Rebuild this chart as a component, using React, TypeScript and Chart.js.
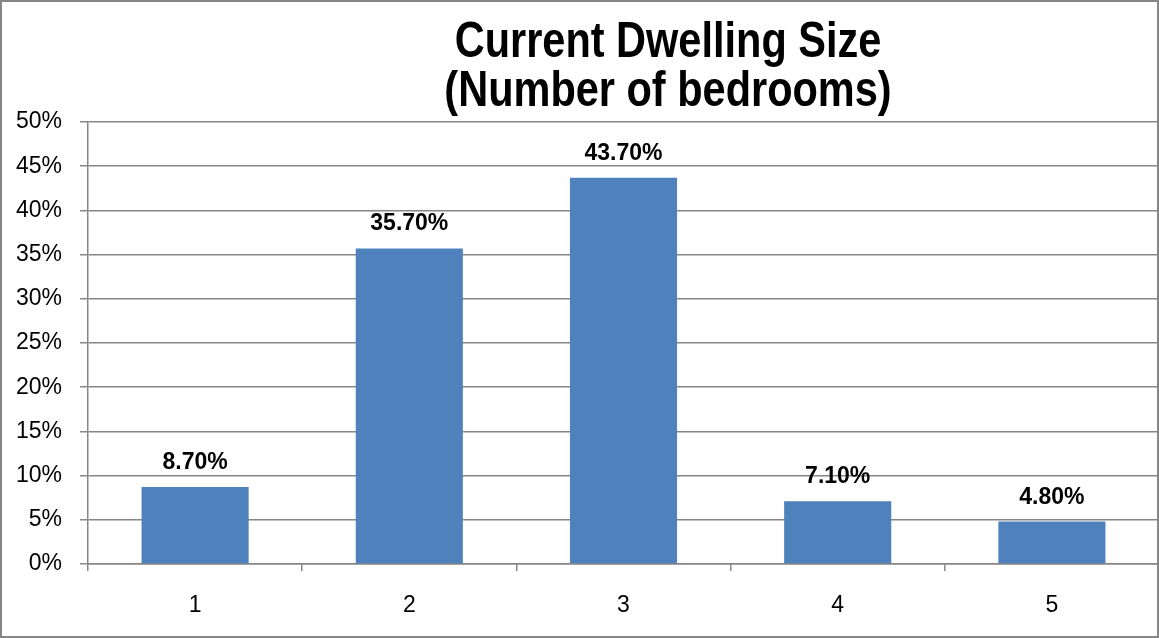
import React, { useEffect, useRef } from "react";
import { Chart, registerables } from "chart.js";

Chart.register(...registerables);

const categories = ["1", "2", "3", "4", "5"];
const values = [8.7, 35.7, 43.7, 7.1, 4.8];
const titleLines = ["Current Dwelling Size", "(Number of bedrooms)"];
const yMax = 50;
const yStep = 5;

const AXIS = "#868686";
const BAR = "#4F81BD";
const SANS = "'Liberation Sans', Arial, sans-serif";

export default function App() {
  const ref = useRef<HTMLCanvasElement | null>(null);

  useEffect(() => {
    if (!ref.current) return;
    const frameAndText = {
      id: "frameAndText",
      afterDraw(chart: any) {
        const ctx = chart.ctx;
        ctx.save();
        // outer frame
        ctx.strokeStyle = AXIS;
        ctx.lineWidth = 2;
        ctx.strokeRect(1, 1, chart.width - 2, chart.height - 2);
        // title (condensed bold)
        ctx.fillStyle = "#000";
        ctx.font = `bold 50px ${SANS}`;
        ctx.textAlign = "center";
        ctx.textBaseline = "alphabetic";
        const baselines = [57, 106];
        titleLines.forEach((line, i) => {
          ctx.save();
          ctx.translate(668, baselines[i]);
          ctx.scale(0.83, 1);
          ctx.fillText(line, 0, 0);
          ctx.restore();
        });
        // data labels
        ctx.font = `bold 23px ${SANS}`;
        const meta = chart.getDatasetMeta(0);
        meta.data.forEach((bar: any, i: number) => {
          ctx.fillText(values[i].toFixed(2) + "%", bar.x, bar.y - 18);
        });
        ctx.restore();
      },
    };

    const chart = new Chart(ref.current, {
      type: "bar",
      data: {
        labels: categories,
        datasets: [
          {
            data: values,
            backgroundColor: BAR,
            borderWidth: 0,
            barPercentage: 0.5,
            categoryPercentage: 1,
          },
        ],
      },
      options: {
        responsive: false,
        animation: false,
        devicePixelRatio: 1,
        layout: { padding: { top: 122, left: 0, right: 0, bottom: 0 } },
        plugins: {
          legend: { display: false },
          title: { display: false },
          tooltip: { enabled: false },
        },
        scales: {
          x: {
            afterFit(scale: any) {
              scale.height = 74;
            },
            grid: {
              display: true,
              drawOnChartArea: false,
              drawTicks: true,
              tickLength: 7,
              color: AXIS,
              lineWidth: 1.5,
            },
            border: { display: true, color: AXIS, width: 1.5 },
            ticks: {
              color: "#000",
              font: { family: SANS, size: 23 },
              padding: 21,
            },
          },
          y: {
            min: 0,
            max: yMax,
            afterFit(scale: any) {
              scale.width = 88;
            },
            grid: {
              color: AXIS,
              lineWidth: 1.5,
              drawTicks: true,
              tickLength: 8,
            },
            border: { display: true, color: AXIS, width: 1.5 },
            ticks: {
              stepSize: yStep,
              color: "#000",
              font: { family: SANS, size: 23 },
              padding: 18,
              callback: (v: any) => v + "%",
            },
          },
        },
      },
      plugins: [frameAndText],
    } as any);
    return () => chart.destroy();
  }, []);

  return (
    <div style={{ position: "fixed", left: 0, top: 0, width: 1159, height: 638, background: "#fff" }}>
      <canvas ref={ref} width={1159} height={638} style={{ display: "block" }} />
    </div>
  );
}
